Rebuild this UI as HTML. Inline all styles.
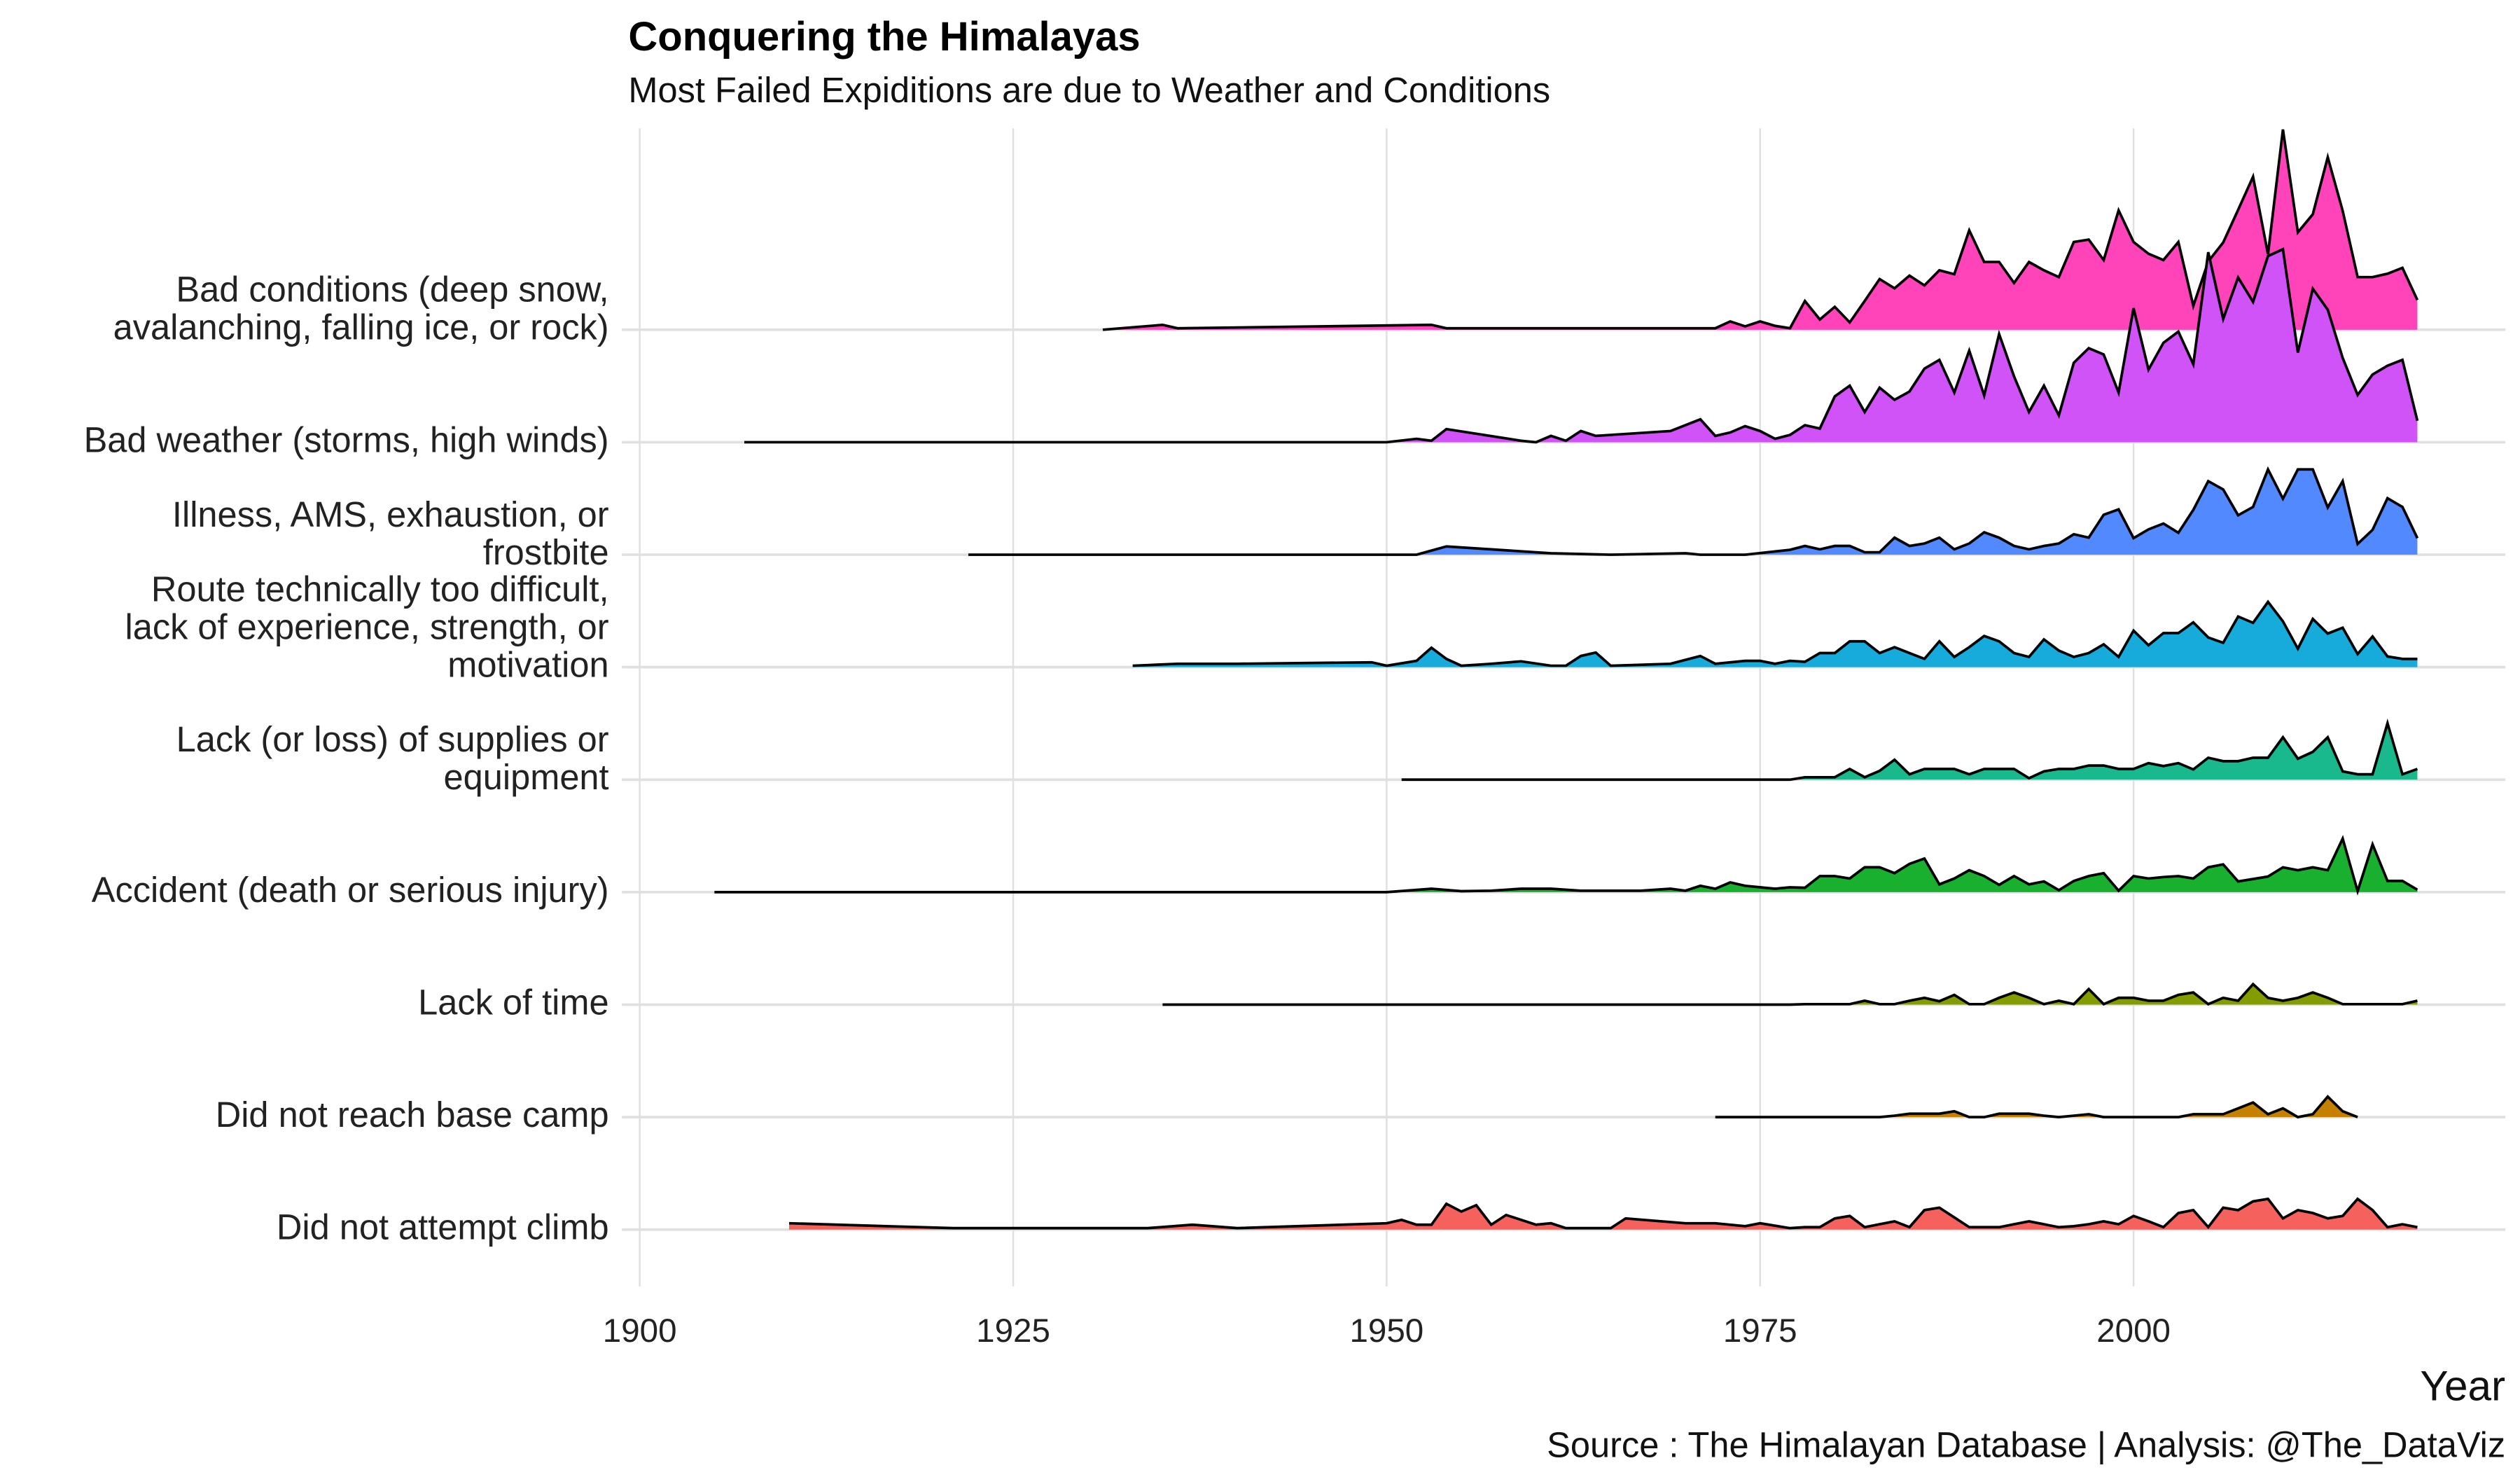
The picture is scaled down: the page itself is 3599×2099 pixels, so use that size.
<!DOCTYPE html>
<html><head><meta charset="utf-8"><style>
html,body{margin:0;padding:0;background:#fff;}
svg{display:block;font-family:"Liberation Sans",Arial,sans-serif;}
</style></head><body>
<svg id="chart" width="3599" height="2099" viewBox="0 0 1552 905" preserveAspectRatio="none" xmlns="http://www.w3.org/2000/svg">
<rect x="0" y="0" width="1552" height="905" fill="#fff"/>
<text x="387" y="31" font-size="25" font-weight="bold" fill="#000">Conquering the Himalayas</text>
<text x="387" y="63" font-size="21.8" fill="#111">Most Failed Expiditions are due to Weather and Conditions</text>
<g id="grid"></g>
<g id="ridges"></g>
<g id="ylabels"></g>
<g id="xticks"></g>
<text x="1543" y="862" font-size="26" text-anchor="end" fill="#111">Year</text>
<text x="1543" y="897" font-size="21.8" text-anchor="end" fill="#111">Source : The Himalayan Database | Analysis: @The_DataViz</text>
</svg>
<script>
const categories = [
 ["Bad conditions (deep snow,","avalanching, falling ice, or rock)"],
 ["Bad weather (storms, high winds)"],
 ["Illness, AMS, exhaustion, or","frostbite"],
 ["Route technically too difficult,","lack of experience, strength, or","motivation"],
 ["Lack (or loss) of supplies or","equipment"],
 ["Accident (death or serious injury)"],
 ["Lack of time"],
 ["Did not reach base camp"],
 ["Did not attempt climb"]
];
const colors = ["#FF43B8","#CF53F7","#5289FF","#17ABDC","#19B98D","#18B02E","#839C00","#C58000","#F5625E"];
const xTicks = [1900,1925,1950,1975,2000];
const recentYears = [1978,1979,1980,1981,1982,1983,1984,1985,1986,1987,1988,1989,1990,1991,1992,1993,1994,1995,1996,1997,1998,1999,2000,2001,2002,2003,2004,2005,2006,2007,2008,2009,2010,2011,2012,2013,2014,2015,2016,2017,2018,2019];

const earlyYears1 = [1931,1935,1936,1953,1954,1972,1973,1974,1975,1976,1977];
const earlyVals1  = [0,1,0.3,1,0.3,0.3,1.7,0.7,1.7,0.8,0.3];
const recentVals1 = [5.9,2.1,4.7,1.5,5.9,10.4,8.5,11.1,9.1,12.2,11.4,20.4,13.9,13.9,9.6,13.9,12.2,10.8,18.0,18.5,14.3,24.5,18.0,15.6,14.3,18.0,4.9,14.0,17.9,24.6,31.4,15.5,41.1,20.0,23.7,35.4,24.4,10.8,10.8,11.5,12.7,6.1];

const earlyYears2 = [1907,1950,1952,1953,1954,1959,1960,1961,1962,1963,1964,1969,1971,1972,1973,1974,1975,1976,1977];
const earlyVals2  = [0,0,0.7,0.3,2.7,0.3,0,1.3,0.3,2.3,1.3,2.3,4.7,1.3,2,3.3,2.3,0.7,1.5];
const recentVals2 = [3.5,2.8,9.4,11.6,6.2,11.2,8.7,10.4,15.1,16.9,10.2,18.8,9.6,22.2,13.5,6.2,11.6,5.5,16.3,19.3,18.0,10.2,27.5,14.9,20.4,22.7,16.0,39.0,25.3,33.8,28.8,38.2,39.6,18.4,31.5,27.2,17.3,9.7,13.9,15.7,16.9,4.4];

const earlyYears3 = [1922,1952,1954,1961,1965,1970,1971,1974,1977];
const earlyVals3  = [0,0,1.7,0.3,0,0.3,0,0,1];
const recentVals3 = [1.8,1.1,1.8,1.8,0.5,0.5,3.5,1.8,2.3,3.5,1.1,2.3,4.6,3.5,1.8,1.1,1.8,2.3,4.2,3.5,8.2,9.3,3.4,5.2,6.4,4.5,9.2,15.1,13.4,8.1,9.8,17.5,11.5,17.5,17.5,9.7,15.1,2.2,5.1,11.6,9.8,3.4];

const earlyYears4 = [1933,1936,1940,1949,1950,1952,1953,1954,1955,1957,1959,1961,1962,1963,1964,1965,1969,1971,1972,1974,1975,1976,1977];
const earlyVals4  = [0.3,0.7,0.7,1,0.3,1.3,4,1.7,0.3,0.7,1.2,0.3,0.3,2.3,3,0.3,0.7,2.3,0.7,1.3,1.3,0.7,1.3];
const recentVals4 = [1.1,2.9,2.9,5.3,5.3,2.9,4.1,2.9,1.7,5.3,2.1,4.1,6.4,5.3,2.9,2.1,5.7,3.4,2.1,2.9,4.7,2.1,7.5,4.5,7.0,7.0,9.2,6.1,5.0,10.4,9.1,13.4,9.4,3.8,9.9,6.9,8.1,2.7,6.3,2.2,1.7,1.7];

const earlyYears5 = [1951,1977];
const earlyVals5  = [0,0];
const recentVals5 = [0.5,0.5,0.5,2.2,0.5,1.8,4.1,1.1,2.2,2.2,2.2,1.1,2.2,2.2,2.2,0.3,1.7,2.2,2.2,2.9,2.9,2.2,2.2,3.4,2.8,3.4,2.1,4.5,3.8,3.8,4.5,4.5,8.7,4.3,5.7,8.7,1.7,1.1,1.1,11.6,1.1,2.2];

const earlyYears6 = [1905,1950,1953,1955,1957,1959,1961,1963,1967,1969,1970,1971,1972,1973,1974,1976,1977];
const earlyVals6  = [0,0,0.7,0.2,0.3,0.7,0.7,0.3,0.3,0.7,0.3,1.3,0.7,2,1.3,0.7,1];
const recentVals6 = [0.9,3.3,3.3,2.8,5.1,5.1,3.9,5.8,6.9,1.6,2.8,4.5,3.3,1.5,3.3,1.6,2.2,0.4,2.3,3.3,3.9,0.3,3.3,2.8,3.1,3.3,2.8,5.1,5.7,2.2,2.7,3.2,5.1,4.5,5.1,4.5,11.0,0.2,9.8,2.3,2.3,0.5];

const earlyYears7 = [1935,1977];
const earlyVals7  = [0,0];
const recentVals7 = [0.1,0.1,0.1,0.1,0.8,0.1,0.1,0.8,1.4,0.7,2.0,0.1,0.1,1.4,2.5,1.4,0.1,0.8,0.1,3.2,0.1,1.4,1.4,0.8,0.8,2.0,2.5,0.1,1.4,0.8,4.2,1.4,0.8,1.4,2.5,1.4,0.1,0.1,0.1,0.1,0.1,0.8];

const earlyYears8 = [1972,1977];
const earlyVals8  = [0,0];
const recentVals8 = [0,0,0,0,0,0,0.3,0.7,0.7,0.7,1.2,0,0,0.7,0.7,0.7,0.3,0,0.3,0.6,0,0,0,0,0,0,0.6,0.6,0.6,1.8,3.0,0.6,1.8,0,0.6,4.2,1.2,0];

const earlyYears9 = [1910,1921,1934,1937,1940,1950,1951,1952,1953,1954,1955,1956,1957,1958,1960,1961,1962,1965,1966,1970,1972,1974,1975,1977];
const earlyVals9  = [1.3,0.3,0.3,1,0.3,1.3,2,1,1,5.3,3.7,5,1,3,1,1.3,0.3,0.3,2.3,1.3,1.3,0.7,1.3,0.3];
const recentVals9 = [0.5,0.5,2.3,2.8,0.5,1.1,1.7,0.5,4.0,4.5,2.5,0.5,0.5,0.5,1.1,1.7,1.1,0.5,0.7,1.1,1.7,1.1,2.8,1.7,0.5,3.4,4.0,0.5,4.5,4.0,5.8,6.3,2.3,4.0,3.4,2.3,2.8,6.3,4.0,0.5,1.1,0.5];

const seriesEarlyYears = [earlyYears1,earlyYears2,earlyYears3,earlyYears4,earlyYears5,earlyYears6,earlyYears7,earlyYears8,earlyYears9];
const seriesEarlyVals = [earlyVals1,earlyVals2,earlyVals3,earlyVals4,earlyVals5,earlyVals6,earlyVals7,earlyVals8,earlyVals9];
const seriesRecentVals = [recentVals1,recentVals2,recentVals3,recentVals4,recentVals5,recentVals6,recentVals7,recentVals8,recentVals9];

const NS = "http://www.w3.org/2000/svg";
function xScale(year){ return 394 + (year-1900)*9.2; }
function rowBase(i){ return 203 + i*69.25; }
function yScale(i, v){ return rowBase(i) - v*3; }

const grid = document.getElementById('grid');
xTicks.forEach(t=>{
  const l = document.createElementNS(NS,'line');
  l.setAttribute('x1',xScale(t)); l.setAttribute('x2',xScale(t));
  l.setAttribute('y1',79); l.setAttribute('y2',792);
  l.setAttribute('stroke','#e0e0e0'); l.setAttribute('stroke-width','1.1');
  
  
  grid.appendChild(l);
  const tx = document.createElementNS(NS,'text');
  tx.setAttribute('x',xScale(t)); tx.setAttribute('y',826);
  tx.setAttribute('font-size','20.5'); tx.setAttribute('text-anchor','middle'); tx.setAttribute('fill','#222');
  tx.textContent = t;
  
  
  document.getElementById('xticks').appendChild(tx);
});
categories.forEach((c,i)=>{
  const l = document.createElementNS(NS,'line');
  l.setAttribute('x1',383); l.setAttribute('x2',1543);
  l.setAttribute('y1',rowBase(i)); l.setAttribute('y2',rowBase(i));
  l.setAttribute('stroke','#e0e0e0'); l.setAttribute('stroke-width','1.6');
  
  
  grid.appendChild(l);
});

const ridges = document.getElementById('ridges');
categories.forEach((c,i)=>{
  const ys = seriesEarlyYears[i].concat(recentYears.slice(0, seriesRecentVals[i].length));
  const vs = seriesEarlyVals[i].concat(seriesRecentVals[i]);
  let pts = ys.map((y,k)=> xScale(y).toFixed(2)+','+yScale(i,vs[k]).toFixed(2));
  const b = rowBase(i);
  const g = document.createElementNS(NS,'g');
  
  
  const area = document.createElementNS(NS,'polygon');
  area.setAttribute('points', xScale(ys[0])+','+b+' '+pts.join(' ')+' '+xScale(ys[ys.length-1])+','+b);
  area.setAttribute('fill',colors[i]);
  
  
  const line = document.createElementNS(NS,'polyline');
  line.setAttribute('points', pts.join(' '));
  line.setAttribute('fill','none'); line.setAttribute('stroke','#000'); line.setAttribute('stroke-width','1.6');
  line.setAttribute('stroke-linejoin','miter');
  
  
  g.appendChild(area); g.appendChild(line);
  ridges.appendChild(g);

  const n = c.length;
  c.forEach((s,k)=>{
    const t = document.createElementNS(NS,'text');
    t.setAttribute('x',375);
    t.setAttribute('y', b + 6 - (n-1-k)*23.3);
    t.setAttribute('font-size','21.8'); t.setAttribute('text-anchor','end'); t.setAttribute('fill','#222');
    t.textContent = s;
    
    
    document.getElementById('ylabels').appendChild(t);
  });
});
</script>
</body></html>
